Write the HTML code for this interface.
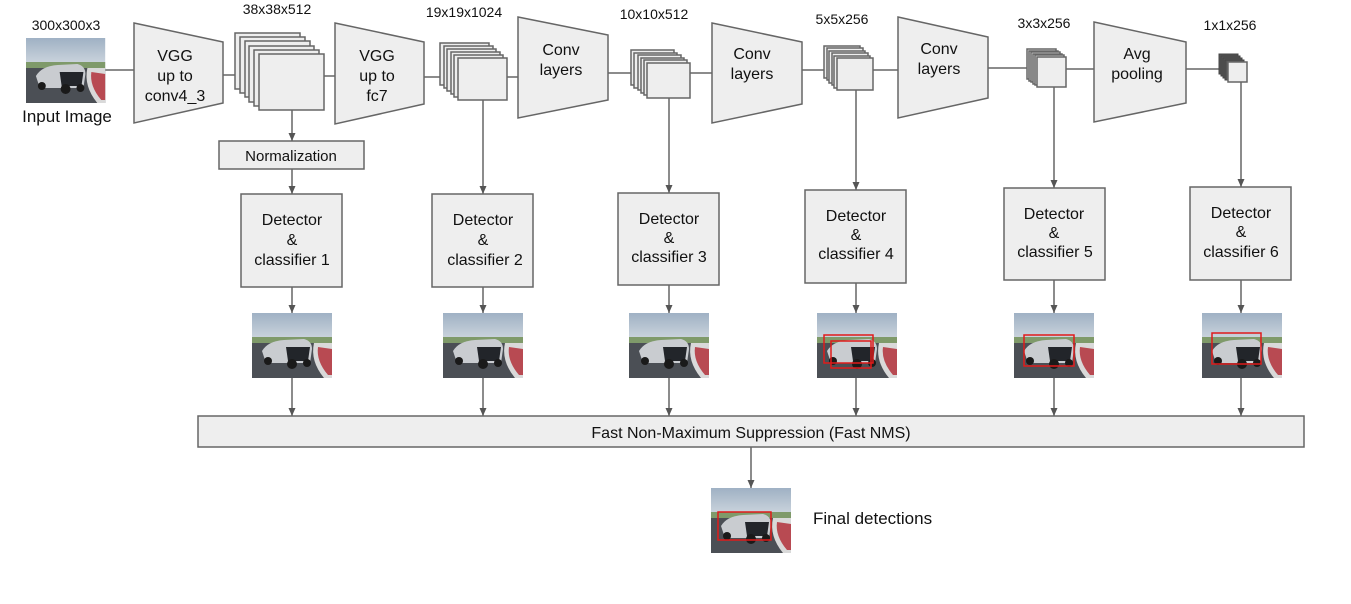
<!DOCTYPE html>
<html><head><meta charset="utf-8"><style>
html,body{margin:0;padding:0;background:#fff;}
svg{display:block;}
text{font-family:"Liberation Sans",Arial,sans-serif;fill:#111;}
</style></head><body>
<svg width="1351" height="604" viewBox="0 0 1351 604" xmlns="http://www.w3.org/2000/svg">
<defs>
<marker id="ar" markerWidth="9" markerHeight="8" refX="8" refY="4" orient="auto" markerUnits="userSpaceOnUse">
<path d="M0,0.5 L8,4 L0,7.5 z" fill="#555"/>
</marker>
<linearGradient id="sky" x1="0" y1="0" x2="0" y2="1">
<stop offset="0" stop-color="#9fb1c4"/><stop offset="0.5" stop-color="#d7dde3"/><stop offset="1" stop-color="#c9cfd4"/>
</linearGradient>
<g id="car">
<rect x="0" y="0" width="80" height="65" fill="url(#sky)"/>
<rect x="0" y="24" width="80" height="6" fill="#7f9a6a"/>
<rect x="0" y="30" width="80" height="35" fill="#4b4f55"/>
<path d="M62,30 Q58,48 72,65 L80,65 L80,30 z" fill="#d9d9d9"/>
<path d="M66,34 Q64,48 76,62 L80,62 L80,36 z" fill="#b84a52"/>
<path d="M10,38 Q16,28 32,27 L52,26 Q60,28 60,36 L58,50 L14,50 z" fill="#c9ccd0"/>
<path d="M34,34 L58,34 L56,48 L36,48 z" fill="#22252a"/>
<circle cx="16" cy="48" r="4" fill="#1a1a1a"/><circle cx="40" cy="51" r="5" fill="#1a1a1a"/><circle cx="55" cy="50" r="4" fill="#1a1a1a"/>
</g>
</defs>

<g stroke="#666" stroke-width="1.5" fill="none">
<line x1="105" y1="70" x2="134" y2="70"/>
<line x1="223" y1="75" x2="240" y2="75"/>
<line x1="324" y1="76" x2="335" y2="76"/>
<line x1="424" y1="77" x2="440" y2="77"/>
<line x1="507" y1="77" x2="518" y2="77"/>
<line x1="608" y1="73" x2="631" y2="73"/>
<line x1="690" y1="73" x2="712" y2="73"/>
<line x1="802" y1="70" x2="824" y2="70"/>
<line x1="873" y1="70" x2="898" y2="70"/>
<line x1="988" y1="68" x2="1027" y2="68"/>
<line x1="1066" y1="69" x2="1094" y2="69"/>
<line x1="1186" y1="69" x2="1219" y2="69"/>
</g>

<use href="#car" transform="translate(26,38) scale(0.99,1)"/>
<text x="66" y="30" font-size="14" text-anchor="middle">300x300x3</text>
<text x="67" y="122" font-size="17" text-anchor="middle">Input Image</text>

<g fill="#eeeeee" stroke="#666" stroke-width="1.5">
<polygon points="134,23 223,42 223,103 134,123"/>
<polygon points="335,23 424,42 424,104 335,124"/>
<polygon points="518,17 608,35 608,100 518,118"/>
<polygon points="712,23 802,42 802,104 712,123"/>
<polygon points="898,17 988,37 988,98 898,118"/>
<polygon points="1094,22 1186,42 1186,103 1094,122"/>
</g>
<g font-size="16" text-anchor="middle">
<text x="175" y="61">VGG</text><text x="175" y="81">up to</text><text x="175" y="101">conv4_3</text>
<text x="377" y="61">VGG</text><text x="377" y="81">up to</text><text x="377" y="101">fc7</text>
<text x="561" y="55">Conv</text><text x="561" y="75">layers</text>
<text x="752" y="59">Conv</text><text x="752" y="79">layers</text>
<text x="939" y="54">Conv</text><text x="939" y="74">layers</text>
<text x="1137" y="59">Avg</text><text x="1137" y="79">pooling</text>
</g>

<g fill="#eeeeee" stroke="#666" stroke-width="1.5">
<rect x="235" y="33" width="65" height="56"/><rect x="240" y="37" width="65" height="56"/><rect x="245" y="41" width="65" height="56"/><rect x="249" y="46" width="65" height="56"/><rect x="254" y="50" width="65" height="56"/><rect x="259" y="54" width="65" height="56"/>
<rect x="440" y="43" width="49" height="42"/><rect x="444" y="46" width="49" height="42"/><rect x="447" y="49" width="49" height="42"/><rect x="451" y="52" width="49" height="42"/><rect x="454" y="55" width="49" height="42"/><rect x="458" y="58" width="49" height="42"/>
<rect x="631" y="50" width="43" height="35"/><rect x="634" y="53" width="43" height="35"/><rect x="638" y="55" width="43" height="35"/><rect x="641" y="58" width="43" height="35"/><rect x="644" y="60" width="43" height="35"/><rect x="647" y="63" width="43" height="35"/>
<rect x="824" y="46" width="36" height="32"/><rect x="827" y="48" width="36" height="32"/><rect x="829" y="51" width="36" height="32"/><rect x="832" y="53" width="36" height="32"/><rect x="834" y="56" width="36" height="32"/><rect x="837" y="58" width="36" height="32"/>
<rect x="1027" y="49" width="29" height="30"/><rect x="1029" y="51" width="29" height="30"/><rect x="1031" y="52" width="29" height="30"/><rect x="1033" y="54" width="29" height="30"/><rect x="1035" y="55" width="29" height="30"/><rect x="1037" y="57" width="29" height="30"/>
</g>
<g fill="#555" stroke="#444" stroke-width="1">
<rect x="1219" y="54" width="19" height="20"/><rect x="1221" y="56" width="19" height="20"/><rect x="1223" y="58" width="19" height="20"/><rect x="1225" y="60" width="19" height="20"/>
</g>
<rect x="1228" y="62" width="19" height="20" fill="#eeeeee" stroke="#666" stroke-width="1.5"/>

<g font-size="14" text-anchor="middle">
<text x="277" y="14">38x38x512</text>
<text x="464" y="17">19x19x1024</text>
<text x="654" y="19">10x10x512</text>
<text x="842" y="24">5x5x256</text>
<text x="1044" y="28">3x3x256</text>
<text x="1230" y="30">1x1x256</text>
</g>

<rect x="219" y="141" width="145" height="28" fill="#eeeeee" stroke="#666" stroke-width="1.5"/>
<text x="291" y="161" font-size="15" text-anchor="middle">Normalization</text>

<g stroke="#666" stroke-width="1.5" marker-end="url(#ar)">
<line x1="292" y1="110" x2="292" y2="141"/>
<line x1="292" y1="169" x2="292" y2="194"/>
<line x1="483" y1="100" x2="483" y2="194"/>
<line x1="669" y1="98" x2="669" y2="193"/>
<line x1="856" y1="90" x2="856" y2="190"/>
<line x1="1054" y1="87" x2="1054" y2="188"/>
<line x1="1241" y1="82" x2="1241" y2="187"/>
<line x1="292" y1="287" x2="292" y2="313"/>
<line x1="483" y1="287" x2="483" y2="313"/>
<line x1="669" y1="285" x2="669" y2="313"/>
<line x1="856" y1="283" x2="856" y2="313"/>
<line x1="1054" y1="280" x2="1054" y2="313"/>
<line x1="1241" y1="280" x2="1241" y2="313"/>
<line x1="292" y1="378" x2="292" y2="416"/>
<line x1="483" y1="378" x2="483" y2="416"/>
<line x1="669" y1="378" x2="669" y2="416"/>
<line x1="856" y1="378" x2="856" y2="416"/>
<line x1="1054" y1="378" x2="1054" y2="416"/>
<line x1="1241" y1="378" x2="1241" y2="416"/>
<line x1="751" y1="447" x2="751" y2="488"/>
</g>

<g fill="#eeeeee" stroke="#666" stroke-width="1.5">
<rect x="241" y="194" width="101" height="93"/>
<rect x="432" y="194" width="101" height="93"/>
<rect x="618" y="193" width="101" height="92"/>
<rect x="805" y="190" width="101" height="93"/>
<rect x="1004" y="188" width="101" height="92"/>
<rect x="1190" y="187" width="101" height="93"/>
</g>
<g font-size="16" text-anchor="middle">
<text x="292" y="225">Detector</text><text x="292" y="245">&amp;</text><text x="292" y="265">classifier 1</text>
<text x="483" y="225">Detector</text><text x="483" y="245">&amp;</text><text x="485" y="265">classifier 2</text>
<text x="669" y="224">Detector</text><text x="669" y="243">&amp;</text><text x="669" y="262">classifier 3</text>
<text x="856" y="221">Detector</text><text x="856" y="240">&amp;</text><text x="856" y="259">classifier 4</text>
<text x="1054" y="219">Detector</text><text x="1054" y="238">&amp;</text><text x="1055" y="257">classifier 5</text>
<text x="1241" y="218">Detector</text><text x="1241" y="237">&amp;</text><text x="1241" y="257">classifier 6</text>
</g>

<use href="#car" transform="translate(252,313)"/>
<use href="#car" transform="translate(443,313)"/>
<use href="#car" transform="translate(629,313)"/>
<use href="#car" transform="translate(817,313)"/>
<use href="#car" transform="translate(1014,313)"/>
<use href="#car" transform="translate(1202,313)"/>
<g fill="none" stroke="#e01b1b" stroke-width="1.5">
<rect x="824" y="335" width="49" height="28"/>
<rect x="831" y="341" width="40" height="27"/>
<rect x="1024" y="335" width="50" height="31"/>
<rect x="1212" y="333" width="49" height="31"/>
</g>

<rect x="198" y="416" width="1106" height="31" fill="#eeeeee" stroke="#666" stroke-width="1.5"/>
<text x="751" y="438" font-size="16" text-anchor="middle">Fast Non-Maximum Suppression (Fast NMS)</text>

<use href="#car" transform="translate(711,488)"/>
<rect x="718" y="512" width="53" height="28" fill="none" stroke="#e01b1b" stroke-width="1.5"/>
<text x="813" y="524" font-size="17">Final detections</text>
</svg>
</body></html>
